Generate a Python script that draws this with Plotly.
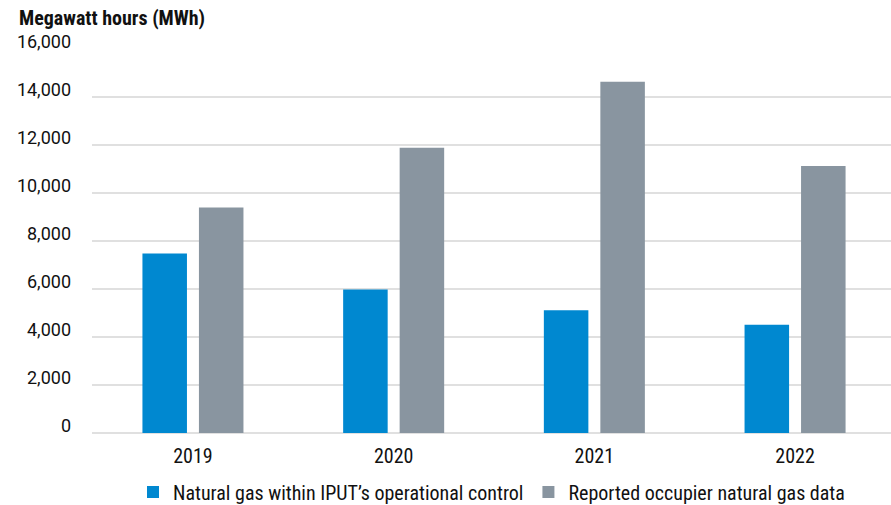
import plotly.graph_objects as go

years = ["2019", "2020", "2021", "2022"]
operational_control = [7480, 5980, 5110, 4510]
occupier_reported = [9400, 11890, 14640, 11120]
y_ticks = [0, 2000, 4000, 6000, 8000, 10000, 12000, 14000, 16000]

NARROW = "Roboto Condensed, Liberation Sans Narrow, Arial Narrow, sans-serif"
REGULAR = "Roboto, Liberation Sans, Arial, sans-serif"

fig = go.Figure()
fig.add_trace(go.Bar(
    x=years, y=operational_control,
    name="Natural gas within IPUT\u2019s operational control",
    marker=dict(color="#0088d0", line=dict(width=0)),
))
fig.add_trace(go.Bar(
    x=years, y=occupier_reported,
    name="Reported occupier natural gas data",
    marker=dict(color="#8995a0", line=dict(width=0)),
))

fig.update_layout(
    width=891, height=505,
    margin=dict(l=92, r=0, t=49, b=72, pad=0, autoexpand=False),
    paper_bgcolor="white", plot_bgcolor="white",
    barmode="group", bargap=0.437, bargroupgap=0.212,
    showlegend=True,
    legend=dict(
        orientation="h", x=0.5, xref="paper", xanchor="center",
        y=13 / 505, yref="container", yanchor="middle",
        font=dict(family=NARROW, size=20, color="#111111"),
        itemwidth=30, traceorder="normal",
    ),
    xaxis=dict(
        type="category", range=[-0.503, 3.478], automargin=False,
        showgrid=False, showline=False, zeroline=False,
        ticks="", ticklabelstandoff=9,
        tickfont=dict(family=NARROW, size=20, color="#111111"),
    ),
    yaxis=dict(
        range=[0, 16000], tickvals=y_ticks, automargin=False,
        tickformat=",d",
        showgrid=True, gridcolor="#e0e0e0", gridwidth=1.5,
        zeroline=True, zerolinecolor="#e0e0e0", zerolinewidth=1.5,
        showline=False, ticks="",
        ticklabelstandoff=20, ticklabelshift=-7,
        tickfont=dict(family=REGULAR, size=18, color="#111111"),
    ),
    annotations=[dict(
        text="<b>Megawatt hours (MWh)</b>",
        xref="paper", yref="paper", x=-92 / 799, y=1.0,
        xshift=17, yshift=31,
        xanchor="left", yanchor="middle", showarrow=False,
        font=dict(family=NARROW, size=20, color="#111111"),
    )],
)

fig.write_html("out.html")
